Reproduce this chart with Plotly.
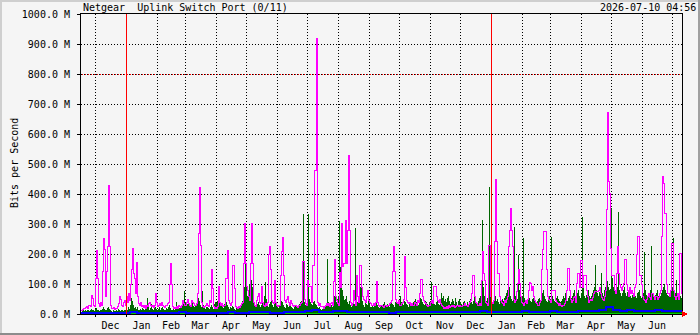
import pandas as pd
import plotly.graph_objects as go

START = "2024-11-17"
END = "2026-07-11"
TITLE = "Netgear  Uplink Switch Port (0/11)"
STAMP = "2026-07-10 04:56"
Y_TITLE = "Bits per Second"
Y_TICKS = [0, 100, 200, 300, 400, 500, 600, 700, 800, 900, 1000]
YEAR_MARKS = ["2025-01-01", "2026-01-01"]
THRESHOLD = 800

# daily maximum outbound (M bit/s)
max_out = [
    13, 15, 20, 18, 22, 25, 20, 28, 30, 24,
    63, 52, 30, 25, 117, 211, 117, 35, 25, 40,
    30, 141, 252, 215, 60, 143, 224, 430, 224, 30,
    20, 18, 22, 15, 20, 18, 25, 35, 60, 50,
    28, 25, 40, 45, 30, 60, 40, 70, 45, 97,
    150, 219, 136, 120, 70, 172, 60, 35, 30, 40,
    25, 30, 22, 28, 20, 30, 25, 35, 40, 30,
    25, 28, 22, 30, 67, 40, 25, 30, 35, 28,
    40, 30, 25, 22, 30, 28, 35, 40, 100, 169,
    100, 25, 20, 22, 18, 25, 20, 30, 25, 22,
    30, 45, 35, 30, 28, 40, 50, 35, 30, 25,
    45, 40, 35, 30, 28, 35, 69, 269, 422, 230,
    40, 25, 22, 25, 30, 35, 28, 25, 45, 40,
    149, 85, 25, 20, 22, 18, 25, 91, 40, 30,
    35, 25, 28, 30, 119, 119, 213, 45, 35, 30,
    40, 161, 161, 85, 25, 22, 20, 25, 22, 30,
    35, 40, 169, 302, 169, 91, 80, 60, 45, 169,
    302, 169, 40, 30, 25, 45, 58, 69, 40, 35,
    91, 40, 30, 25, 35, 28, 40, 197, 224, 147,
    45, 40, 35, 113, 40, 30, 25, 28, 30, 130,
    208, 254, 130, 45, 40, 50, 58, 40, 30, 45,
    35, 30, 25, 28, 30, 25, 22, 28, 30, 35,
    40, 174, 174, 50, 35, 30, 113, 91, 91, 91,
    40, 163, 163, 478, 478, 920, 40, 30, 35, 25,
    25, 24, 20, 24, 30, 36, 30, 36, 25, 36,
    40, 30, 108, 182, 60, 45, 35, 30, 140, 90,
    302, 160, 170, 170, 311, 170, 280, 530, 280, 40,
    30, 35, 80, 45, 30, 130, 60, 40, 163, 163,
    90, 60, 50, 45, 40, 58, 80, 45, 40, 35,
    30, 28, 35, 30, 40, 108, 40, 30, 25, 28,
    30, 25, 22, 28, 30, 25, 30, 28, 35, 40,
    45, 141, 224, 141, 50, 40, 35, 45, 30, 28,
    35, 40, 50, 191, 90, 45, 40, 35, 40, 30,
    35, 28, 30, 40, 35, 30, 45, 40, 69, 116,
    116, 60, 45, 40, 35, 30, 25, 28, 30, 40,
    45, 35, 91, 91, 91, 60, 45, 40, 50, 35,
    30, 25, 20, 22, 18, 25, 20, 28, 22, 25,
    30, 25, 28, 22, 25, 30, 28, 24, 30, 26,
    25, 28, 30, 35, 28, 30, 25, 32, 40, 45,
    69, 127, 127, 60, 40, 35, 30, 28, 35, 30,
    113, 208, 136, 113, 40, 35, 30, 230, 230, 60,
    40, 35, 45, 241, 447, 241, 136, 136, 60, 45,
    40, 35, 30, 45, 40, 50, 60, 224, 280, 352,
    280, 224, 50, 40, 45, 75, 102, 147, 102, 60,
    40, 35, 30, 40, 45, 35, 50, 80, 105, 102,
    80, 91, 60, 45, 40, 35, 30, 28, 40, 45,
    147, 216, 275, 275, 275, 147, 60, 50, 45, 40,
    80, 80, 80, 80, 45, 40, 35, 30, 35, 30,
    25, 30, 28, 35, 45, 80, 152, 152, 80, 50,
    40, 45, 55, 60, 40, 102, 136, 136, 90, 180,
    180, 90, 130, 130, 130, 80, 60, 40, 45, 50,
    45, 55, 70, 75, 75, 75, 75, 80, 90, 70,
    55, 50, 45, 60, 80, 347, 672, 441, 402, 219,
    130, 130, 130, 80, 70, 136, 224, 136, 100, 90,
    80, 91, 102, 182, 182, 100, 80, 60, 90, 70,
    80, 70, 60, 90, 100, 197, 258, 258, 130, 130,
    100, 60, 50, 45, 40, 50, 60, 70, 55, 50,
    69, 69, 60, 50, 58, 58, 50, 55, 70, 80,
    258, 458, 436, 336, 336, 100, 69, 69, 60, 80,
    236, 236, 80, 60, 50, 58, 69, 50, 202, 202,
    70,
]

# daily maximum inbound (M bit/s)
max_in = [
    8, 10, 12, 9, 14, 10, 12, 15, 11, 13,
    18, 14, 12, 10, 16, 20, 14, 12, 9, 15,
    13, 18, 22, 16, 12, 14, 20, 25, 18, 12,
    10, 8, 12, 9, 11, 14, 10, 16, 12, 10,
    12, 15, 10, 14, 12, 20, 15, 25, 18, 30,
    55, 45, 30, 20, 25, 18, 22, 15, 12, 18,
    14, 20, 16, 12, 18, 22, 52, 30, 15, 20,
    35, 18, 14, 20, 25, 16, 12, 18, 22, 15,
    20, 25, 18, 14, 12, 20, 16, 24, 30, 20,
    15, 12, 18, 14, 22, 40, 25, 18, 20, 24,
    30, 35, 45, 78, 40, 30, 35, 50, 28, 25,
    32, 45, 28, 22, 30, 35, 40, 55, 45, 30,
    25, 77, 30, 20, 18, 22, 25, 20, 16, 24,
    30, 22, 18, 35, 40, 38, 45, 58, 42, 35,
    30, 25, 20, 35, 45, 40, 30, 22, 18, 25,
    20, 28, 25, 18, 15, 20, 22, 18, 25, 20,
    30, 45, 60, 90, 290, 113, 60, 80, 100, 70,
    113, 90, 47, 40, 30, 25, 35, 40, 30, 25,
    30, 40, 35, 60, 108, 50, 30, 25, 35, 40,
    45, 30, 25, 35, 40, 30, 25, 20, 28, 35,
    45, 40, 30, 25, 20, 35, 30, 25, 40, 30,
    25, 20, 18, 25, 30, 22, 20, 28, 35, 40,
    45, 50, 333, 40, 30, 35, 45, 333, 50, 40,
    35, 30, 40, 45, 35, 30, 25, 20, 24, 18,
    15, 18, 20, 22, 25, 30, 182, 40, 30, 35,
    30, 25, 45, 60, 80, 40, 50, 60, 311, 158,
    100, 80, 60, 47, 50, 60, 40, 35, 45, 30,
    25, 30, 40, 35, 288, 50, 40, 60, 160, 90,
    120, 45, 30, 25, 40, 35, 30, 45, 40, 25,
    22, 30, 25, 35, 28, 40, 30, 25, 20, 22,
    30, 25, 35, 40, 30, 28, 35, 30, 25, 40,
    45, 35, 30, 25, 40, 50, 35, 45, 30, 60,
    40, 35, 30, 45, 40, 35, 30, 25, 40, 35,
    30, 35, 40, 45, 50, 40, 35, 30, 45, 55,
    50, 40, 35, 30, 45, 40, 35, 30, 40, 45,
    108, 45, 40, 35, 30, 40, 45, 35, 30, 40,
    69, 55, 60, 45, 50, 40, 55, 60, 45, 35,
    40, 50, 45, 35, 55, 40, 30, 45, 50, 40,
    35, 30, 40, 45, 35, 30, 40, 35, 45, 50,
    40, 35, 45, 60, 50, 40, 35, 45, 55, 60,
    80, 313, 90, 60, 50, 45, 55, 70, 424, 60,
    50, 40, 35, 55, 60, 45, 50, 40, 35, 45,
    40, 50, 45, 55, 60, 70, 80, 169, 90, 60,
    50, 45, 55, 291, 60, 70, 50, 197, 80, 60,
    50, 60, 254, 55, 45, 40, 50, 60, 55, 45,
    40, 50, 55, 45, 40, 35, 45, 50, 55, 45,
    60, 70, 80, 60, 50, 45, 40, 55, 60, 50,
    258, 60, 50, 45, 40, 55, 60, 50, 45, 40,
    45, 50, 60, 55, 70, 50, 45, 55, 60, 50,
    55, 60, 70, 80, 55, 60, 70, 80, 60, 55,
    70, 324, 90, 60, 55, 65, 70, 80, 60, 55,
    60, 70, 80, 90, 163, 80, 70, 60, 75, 90,
    136, 70, 60, 80, 90, 100, 110, 90, 80, 85,
    352, 120, 90, 80, 70, 110, 90, 339, 80, 70,
    60, 70, 80, 90, 70, 60, 75, 80, 70, 60,
    55, 65, 70, 80, 60, 55, 70, 75, 80, 60,
    55, 60, 70, 208, 80, 65, 55, 60, 70, 80,
    228, 70, 60, 55, 65, 70, 80, 60, 55, 60,
    70, 80, 90, 100, 80, 70, 65, 60, 70, 75,
    80, 90, 254, 80, 70, 113, 60, 55, 50, 60,
    55,
]

# weekly average outbound / inbound (M bit/s)
avg_out = [
    4, 4, 5, 4, 5, 4, 5, 6, 5, 5,
    5, 4, 5, 5, 6, 5, 5, 4, 5, 5,
    5, 6, 5, 5, 6, 7, 6, 5, 5, 6,
    6, 7, 9, 12, 8, 7, 9, 11, 8, 7,
    6, 6, 7, 6, 5, 6, 6, 7, 6, 6,
    7, 6, 6, 7, 6, 7, 8, 10, 8, 7,
    8, 7, 8, 9, 7, 8, 8, 9, 8, 8,
    8, 9, 10, 9, 12, 22, 12, 10, 14, 11,
    10, 9, 12, 11, 10, 10,
]
avg_in = [
    2, 2, 2, 2, 2, 2, 2, 3, 2, 2,
    2, 2, 2, 2, 3, 2, 2, 2, 2, 2,
    2, 3, 2, 2, 3, 3, 3, 2, 2, 3,
    3, 3, 4, 4, 3, 3, 3, 4, 3, 3,
    3, 3, 3, 3, 2, 3, 3, 3, 3, 3,
    3, 3, 3, 3, 3, 3, 3, 4, 3, 3,
    3, 3, 3, 4, 3, 3, 3, 4, 3, 3,
    3, 4, 4, 4, 4, 5, 4, 4, 4, 4,
    4, 4, 4, 4, 4, 4,
]

W, H = 700, 335
L, R, T, B = 81, 682, 14, 314


def px(x):
    return (x - L) / (R - L)


def py(y):
    return (B - y) / (B - T)


def step_xy(values, freq):
    d = list(pd.date_range(START, periods=len(values) + 1, freq=freq))
    d[-1] = min(d[-1], pd.Timestamp(END))
    return d, list(values) + [values[-1]]


fig = go.Figure()

x, y = step_xy(max_in, "D")
fig.add_trace(go.Scatter(x=x, y=y, mode="lines", line=dict(shape="hv", width=0, color="#006600"),
                         fill="tozeroy", fillcolor="#006600", hoverinfo="skip", showlegend=False))
x, y = step_xy(avg_in, "7D")
fig.add_trace(go.Scatter(x=x, y=y, mode="lines", line=dict(shape="hv", width=0, color="#00cc00"),
                         fill="tozeroy", fillcolor="#00cc00", hoverinfo="skip", showlegend=False))
x, y = step_xy(max_out, "D")
fig.add_trace(go.Scatter(x=x, y=y, mode="lines", line=dict(shape="hv", width=1, color="#ff00ff"),
                         hoverinfo="skip", showlegend=False))
x, y = step_xy(avg_out, "7D")
fig.add_trace(go.Scatter(x=x, y=y, mode="lines", line=dict(shape="hv", width=2, color="#0000ff"),
                         hoverinfo="skip", showlegend=False))

font = dict(family="DejaVu Sans Mono", size=10, color="#000000")
grid = dict(showgrid=True, gridcolor="#000000", gridwidth=1, griddash="1px,2px",
            showline=True, linecolor="#000000", linewidth=1, mirror=True, automargin=False,
            ticks="outside", tickcolor="#000000", zeroline=False, tickfont=font)

fig.update_layout(
    width=W, height=H,
    margin=dict(l=L, r=W - R, t=T, b=H - B, pad=0, autoexpand=False),
    paper_bgcolor="#f5f5f5", plot_bgcolor="#f5f5f5",
    font=font,
    xaxis=dict(type="date", range=[START, END], dtick="M1", tick0="2024-12-01",
               ticklabelmode="period", tickformat="%b", ticklen=2, **grid),
    yaxis=dict(range=[0, 1000], tickvals=Y_TICKS, ticktext=[f"{v:.1f} M" for v in Y_TICKS],
               ticklen=3, ticklabelstandoff=5, **grid),
)

shapes = []
shapes.append(dict(type="line", xref="paper", yref="y", x0=0, x1=1, y0=THRESHOLD, y1=THRESHOLD,
                   line=dict(color="#ff0000", width=1, dash="2px,1px"), layer="between"))
for d in YEAR_MARKS:
    shapes.append(dict(type="line", xref="x", yref="paper", x0=d, x1=d, y0=0, y1=1,
                       line=dict(color="#ff0000", width=1), layer="above"))
# axis arrow
shapes.append(dict(type="path", xref="paper", yref="paper",
                   path=f"M {px(682)},{py(311)} L {px(688)},{py(314)} L {px(682)},{py(317)} Z",
                   fillcolor="#ff0000", line=dict(color="#ff0000", width=0), layer="above"))
# bevelled frame
shapes.append(dict(type="rect", xref="paper", yref="paper", x0=px(0), x1=px(W), y0=py(0), y1=py(2),
                   fillcolor="#cfcfcf", line=dict(width=0), layer="above"))
shapes.append(dict(type="rect", xref="paper", yref="paper", x0=px(0), x1=px(2), y0=py(0), y1=py(H),
                   fillcolor="#cfcfcf", line=dict(width=0), layer="above"))
shapes.append(dict(type="rect", xref="paper", yref="paper", x0=px(0), x1=px(W), y0=py(H - 2), y1=py(H),
                   fillcolor="#8c8c8c", line=dict(width=0), layer="above"))
shapes.append(dict(type="rect", xref="paper", yref="paper", x0=px(W - 2), x1=px(W), y0=py(0), y1=py(H),
                   fillcolor="#a0a0a0", line=dict(width=0), layer="above"))
fig.update_layout(shapes=shapes)

fig.add_annotation(text=TITLE, xref="paper", yref="paper", x=px(81), y=py(8), xanchor="left",
                   yanchor="middle", showarrow=False, font=font)
fig.add_annotation(text=STAMP, xref="paper", yref="paper", x=px(698), y=py(8), xanchor="right",
                   yanchor="middle", showarrow=False, font=font)
fig.add_annotation(text=Y_TITLE, xref="paper", yref="paper", x=px(14), y=py(163), xanchor="center",
                   yanchor="middle", textangle=-90, showarrow=False, font=font)

crisp = """
var gd = document.getElementById('{plot_id}');
function crisp() {
  gd.querySelectorAll('.scatterlayer path, .shapelayer path, .gridlayer path, .xlines-above, .ylines-above')
    .forEach(function (p) { p.style.shapeRendering = 'crispEdges'; });
}
crisp();
gd.on('plotly_afterplot', crisp);
"""
fig.write_html("out.html", post_script=crisp)
